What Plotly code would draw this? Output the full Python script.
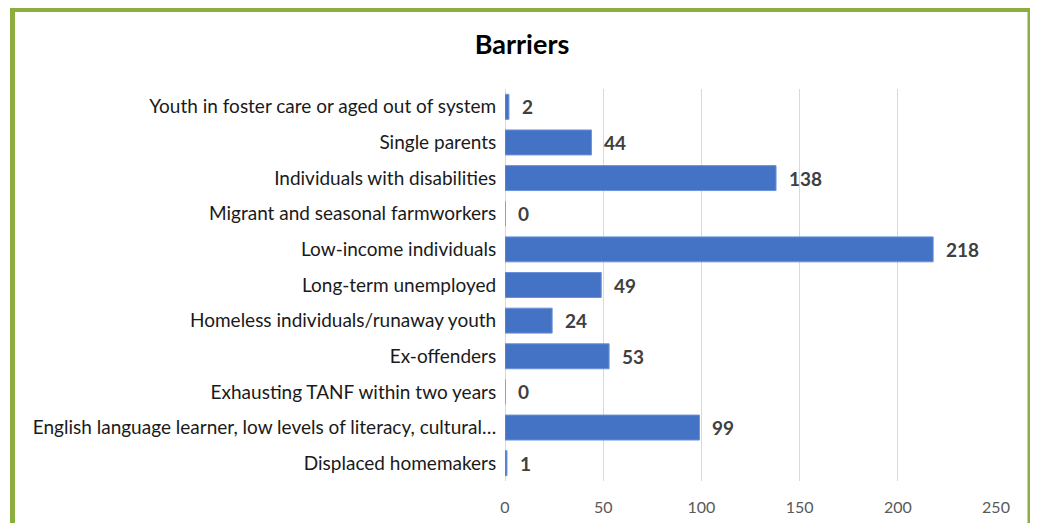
import plotly.graph_objects as go

categories = [
    "Youth in foster care or aged out of system",
    "Single parents",
    "Individuals with disabilities",
    "Migrant and seasonal farmworkers",
    "Low-income individuals",
    "Long-term unemployed",
    "Homeless individuals/runaway youth",
    "Ex-offenders",
    "Exhausting TANF within two years",
    "English language learner, low levels of literacy, cultural…",
    "Displaced homemakers",
]
values = [2, 44, 138, 0, 218, 49, 24, 53, 0, 99, 1]
tick_vals = [0, 50, 100, 150, 200, 250]

FONT = "Lato, 'Open Sans', sans-serif"

# page body has an 8px default margin; work in screen pixels and convert
OFF = 8
W, H = 1038 - OFF, 523 - OFF
L = 505 - OFF
T = 89 - OFF
R = W - (996 - OFF)
B = H - (481 - OFF)
pw, ph = W - L - R, H - T - B

def px_x(p):
    return (p - OFF - L) / pw

def px_y(p):
    return (H - B - (p - OFF)) / ph

fig = go.Figure()
fig.add_trace(go.Bar(
    x=values, y=categories, orientation="h",
    marker=dict(color="#4472C4", line=dict(color="#6A92D8", width=1)),
    width=0.7, hoverinfo="x+y",
))

annotations = []
for c, v in zip(categories, values):
    annotations.append(dict(
        x=v, y=c, xref="x", yref="y", text=str(v), showarrow=False,
        xanchor="left", yanchor="middle", xshift=11,
        font=dict(family=FONT, size=19, color="#404040", weight="bold"),
    ))
fig.update_layout(annotations=annotations)

fig.add_shape(type="rect", xref="paper", yref="paper",
              x0=px_x(12.5), x1=px_x(1030), y0=px_y(560), y1=px_y(9.5),
              line=dict(color="#8BAE3F", width=5), fillcolor="rgba(0,0,0,0)",
              layer="above")

fig.update_layout(
    width=W, height=H,
    margin=dict(l=L, r=R, t=T, b=B, pad=0, autoexpand=False),
    paper_bgcolor="white", plot_bgcolor="white",
    title=dict(text="<b>Barriers</b>", xref="container", x=(522 - OFF) / W, xanchor="center",
               yref="container", y=1 - (45 - OFF) / H, yanchor="middle",
               font=dict(family=FONT, size=27, color="#000000")),
    showlegend=False,
    bargap=0.3,
    xaxis=dict(range=[0, 250], tickvals=tick_vals, showgrid=True,
               gridcolor="#D9D9D9", gridwidth=1, zeroline=True,
               zerolinecolor="#D9D9D9", zerolinewidth=1, showline=False,
               ticks="outside", ticklen=12, tickcolor="rgba(0,0,0,0)",
               tickfont=dict(family=FONT, size=16, color="#595959"),
               fixedrange=True, automargin=False),
    yaxis=dict(categoryorder="array", categoryarray=categories[::-1],
               autorange=False, range=[-0.5, len(categories) - 0.5],
               showgrid=False, ticks="outside", ticklen=4, tickcolor="rgba(0,0,0,0)",
               tickfont=dict(family=FONT, size=19, color="#1a1a1a"),
               fixedrange=True, automargin=False),
)

fig.write_html("out.html")
